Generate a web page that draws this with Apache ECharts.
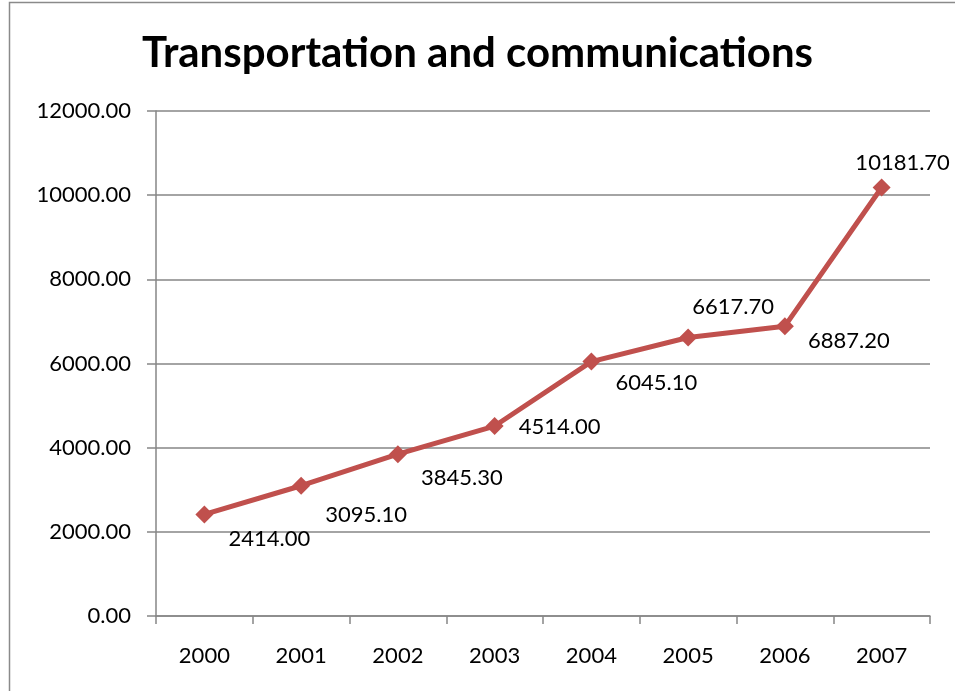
<!DOCTYPE html>
<html>
<head>
<meta charset="utf-8">
<script src="https://cdn.jsdelivr.net/npm/echarts@6/dist/echarts.min.js"></script>
<style>
  html, body { margin: 0; padding: 0; background: #fff; }
  #chart { width: 955px; height: 691px; }
</style>
</head>
<body>
<div id="chart"></div>
<script>
const years = ['2000', '2001', '2002', '2003', '2004', '2005', '2006', '2007'];
const values = [2414.00, 3095.10, 3845.30, 4514.00, 6045.10, 6617.70, 6887.20, 10181.70];
// where each value label sits relative to its marker
const labelOffsets = [[65, 24], [65, 29], [64, 24], [65, 1], [65, 21], [45, -31], [64, 15], [21, -25]];

const FONT = 'Lato, "Open Sans", sans-serif';
const chart = echarts.init(document.getElementById('chart'), null, { renderer: 'canvas' });

chart.setOption({
  backgroundColor: '#ffffff',
  animation: false,
  title: {
    text: 'Transportation and communications',
    left: 'center',
    top: 27,
    textStyle: { fontFamily: FONT, fontWeight: 'bold', fontSize: 42, color: '#000' }
  },
  graphic: [{
    type: 'rect',
    shape: { x: 9.5, y: 2.5, width: 1000, height: 1000 },
    style: { fill: 'none', stroke: '#8a8a8a', lineWidth: 1.5 },
    silent: true
  }],
  grid: { left: 156, right: 25, top: 111, bottom: 75, containLabel: false },
  xAxis: {
    type: 'category',
    data: years,
    boundaryGap: true,
    axisLine: { lineStyle: { color: '#868686', width: 1.5 } },
    axisTick: { show: true, length: 8, alignWithLabel: false, lineStyle: { color: '#868686', width: 1.5 } },
    axisLabel: { fontFamily: FONT, fontSize: 22, color: '#000', margin: 29 },
    splitLine: { show: false }
  },
  yAxis: {
    type: 'value',
    min: 0,
    max: 12000,
    interval: 2000,
    axisLine: { show: true, lineStyle: { color: '#868686', width: 1.5 } },
    axisTick: { show: true, length: 9, inside: false, lineStyle: { color: '#868686', width: 1.5 } },
    axisLabel: {
      fontFamily: FONT, fontSize: 22, color: '#000', margin: 25,
      formatter: v => v.toFixed(2)
    },
    splitLine: { show: true, lineStyle: { color: '#868686', width: 1.5 } }
  },
  series: [{
    type: 'line',
    data: values.map((v, i) => ({
      value: v,
      label: { offset: labelOffsets[i] }
    })),
    symbol: 'diamond',
    symbolSize: 18,
    itemStyle: { color: '#C0504D' },
    lineStyle: { color: '#C0504D', width: 5 },
    label: {
      show: true,
      position: 'inside',
      fontFamily: FONT,
      fontSize: 22,
      color: '#000',
      formatter: p => p.value.toFixed(2)
    }
  }]
});
</script>
</body>
</html>
